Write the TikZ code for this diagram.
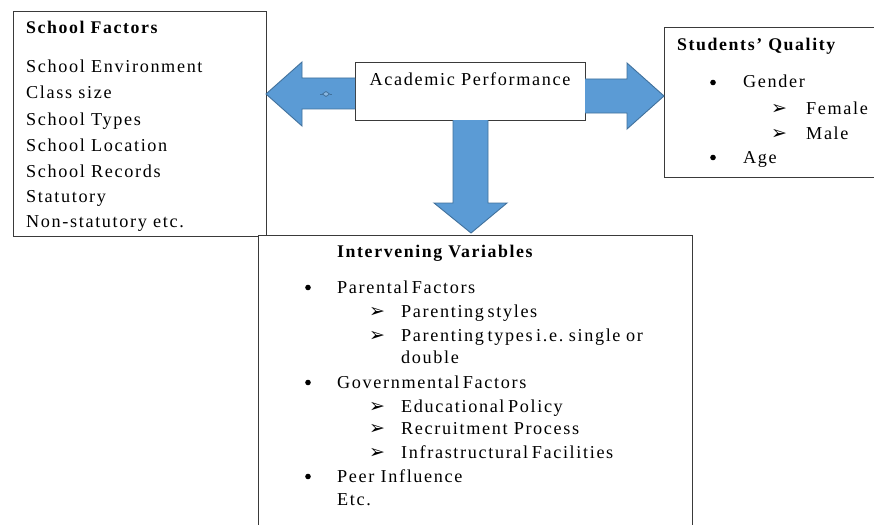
\documentclass[tikz,border=0pt]{standalone}
\usepackage{fontspec}
\setmainfont{Liberation Serif}[LetterSpace=9]
\newfontfamily\dingfont{DejaVu Sans}
\newcommand\mytightspace{\spaceskip 3.6pt\relax}
\newcommand\mywidespace{\hspace{5.5pt}}
\definecolor{boxline}{HTML}{3A3A3A}
\definecolor{arrowfill}{HTML}{5B9BD5}
\definecolor{arrowline}{HTML}{41719C}
\begin{document}
\begin{tikzpicture}[x=1pt,y=-1pt,
  box/.style={draw=boxline, line width=1pt, fill=white, anchor=north west, inner sep=0pt, outer sep=0pt},
  txt/.style={anchor=base west, inner sep=0pt, font=\fontsize{18.2}{21}\selectfont},
  tight/.style={anchor=base west, inner sep=0pt, font={\fontsize{18.2}{21}\selectfont\mytightspace}},
  hd/.style={anchor=base west, inner sep=0pt, font=\fontsize{17.8}{21}\selectfont\bfseries},
  bul/.style={circle, fill=black, inner sep=0pt, minimum size=5.6pt},
  arr/.style={anchor=base west, inner sep=0pt, font=\dingfont\fontsize{19}{19}\selectfont},
  blockarrow/.style={fill=arrowfill, draw=arrowline, line width=0.9pt, line join=miter}
]
\useasboundingbox (0,0) rectangle (874,524);
\fill[white] (0,0) rectangle (874,524);

% School factors box
\node[box, minimum width=253pt, minimum height=224pt] (sf) at (13,12) {};
\node[hd]  (sf0) at (26,34)  {School Factors};
\node[txt] (sf1) at (26,73)  {School Environment};
\node[txt] (sf2) at (26,99)  {Class size};
\node[txt] (sf3) at (26,125) {School Types};
\node[txt] (sf4) at (26,151) {School Location};
\node[txt] (sf5) at (26,177) {School Records};
\node[txt] (sf6) at (26,202) {Statutory};
\node[txt] (sf7) at (26,227) {Non-statutory etc.};

% Academic performance box
\node[box, minimum width=230pt, minimum height=57pt] (ap) at (355,63) {};
\node[anchor=base, inner sep=0pt, font=\fontsize{18.2}{21}\selectfont] (apt) at (470,85) {Academic Performance};

% Students' quality box
\node[box, minimum width=230pt, minimum height=149pt] (sq) at (664,28) {};
\node[hd]  (sq0) at (677,51)  {Students’ Quality};
\node[bul] (sqb1) at (713,82.5) {};
\node[txt] (sq1) at (743,88)  {Gender};
\node[arr] (sqa1) at (771,114) {➢};
\node[txt] (sq2) at (806,114) {Female};
\node[arr] (sqa2) at (771,139) {➢};
\node[txt] (sq3) at (806,139) {Male};
\node[bul] (sqb2) at (713,157.5) {};
\node[txt] (sq4) at (743,163) {Age};

% Block arrows
\draw[blockarrow] (ap.west |- 0,78) -- (302,78) -- (302,62) -- (sf.east |- 0,94) -- (302,126) -- (302,109) -- (ap.west |- 0,109);
\draw[blockarrow] (ap.east |- 0,79) -- (627,79) -- (627,63) -- (sq.west |- 0,96) -- (627,129) -- (627,113) -- (ap.east |- 0,113);
\draw[blockarrow] (453,120) -- (453,203) -- (434,203) -- (471,233) -- (507,203) -- (488,203) -- (488,120);

% small diamond marker on the left arrow
\node[inner sep=0pt, minimum size=0pt] (mk) at (326,94) {};
\draw[arrowline, line width=0.8pt, fill=arrowfill!70!white] (322.5,94) -- (326,91.5) -- (329.5,94) -- (326,96.5) -- cycle;
\draw[arrowline, line width=0.8pt] (320,94) -- (322.5,94) (329.5,94) -- (332,94);

% Intervening variables box
\node[box, minimum width=434pt, minimum height=300pt] (iv) at (258,235) {};
\node[hd]  (iv0) at (337,257) {Intervening Variables};
\node[bul] (ivb1) at (308,287.5) {};
\node[tight] (iv1) at (337,293) {Parental Factors};
\node[arr] (iva1) at (369,317) {➢};
\node[tight] (iv2) at (401,317) {Parenting styles};
\node[arr] (iva2) at (369,341) {➢};
\node[tight] (iv3) at (401,341) {Parenting types i.e.\mywidespace single\mywidespace or};
\node[txt] (iv4) at (401,363) {double};
\node[bul] (ivb2) at (308,382.5) {};
\node[tight] (iv5) at (337,388) {Governmental Factors};
\node[arr] (iva3) at (369,412) {➢};
\node[tight] (iv6) at (401,412) {Educational Policy};
\node[arr] (iva4) at (369,434) {➢};
\node[txt] (iv7) at (401,434) {Recruitment Process};
\node[arr] (iva5) at (369,458) {➢};
\node[tight] (iv8) at (401,458) {Infrastructural Facilities};
\node[bul] (ivb3) at (308,476.5) {};
\node[txt] (iv9) at (337,482) {Peer Influence};
\node[txt] (iv10) at (337,505) {Etc.};
\end{tikzpicture}
\end{document}
